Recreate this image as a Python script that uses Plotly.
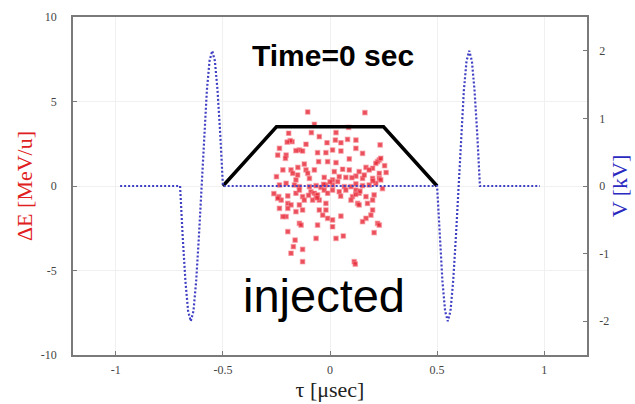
import plotly.graph_objects as go

# Longitudinal phase space of the injected bunch at t = 0
tau_us = [
    -0.104, 0.163, -0.073, -0.193, -0.177, -0.186, -0.087, -0.050, 0.028, 0.025,
    -0.014, 0.051, 0.082, 0.121, 0.234, 0.087, -0.112, -0.143, -0.159, -0.128,
    -0.236, -0.244, -0.205, -0.208, -0.058, -0.019, 0.012, 0.051, 0.121, 0.152,
    0.230, 0.222, 0.214, 0.237, 0.199, 0.168, 0.183, 0.136, 0.121, 0.152,
    0.160, 0.230, 0.230, 0.237, 0.199, -0.220, -0.182, -0.174, -0.151, -0.159,
    -0.112, -0.104, -0.096, -0.073, -0.011, 0.028, -0.053, 0.059, 0.090, 0.020,
    -0.027, 0.012, 0.043, 0.074, 0.102, -0.236, -0.205, -0.166, -0.143, -0.096,
    -0.065, -0.042, -0.019, 0.012, 0.036, 0.067, 0.098, 0.121, 0.152, 0.183,
    0.214, -0.239, -0.228, -0.197, -0.159, -0.143, -0.128, -0.089, -0.073, -0.065,
    -0.058, -0.027, -0.011, 0.012, 0.043, 0.074, 0.105, 0.121, 0.136, 0.168,
    0.206, -0.244, -0.197, -0.182, -0.143, -0.120, -0.081, -0.050, -0.019, 0.098,
    0.129, 0.136, 0.175, 0.199, -0.236, -0.197, -0.159, -0.128, -0.050, -0.034,
    -0.019, -0.011, 0.012, 0.051, 0.191, 0.168, 0.199, -0.205, -0.220, -0.143,
    -0.135, -0.058, 0.012, 0.152, 0.222, 0.230, 0.206, -0.197, -0.065, 0.028,
    0.062, -0.163, -0.171, -0.128, -0.182, -0.128, 0.113, 0.118, -0.100, -0.060,
    0.140, 0.120, 0.000, -0.030, -0.120, -0.150, 0.050, 0.090, -0.200, 0.200,
    0.255, 0.262, -0.262, 0.245, -0.250,
]
de_mev_u = [
    4.38, 4.34, 3.65, 3.12, 2.62, 2.68, 3.16, 2.92, 3.16, 2.72,
    2.56, 2.56, 2.76, 2.72, 2.43, 3.47, 2.47, 2.13, 2.09, 2.07,
    2.23, 1.83, 1.83, 1.64, 1.97, 1.97, 2.13, 2.07, 2.23, 1.93,
    1.54, 1.44, 1.34, 1.64, 1.05, 1.10, 0.95, 0.85, 0.59, 0.45,
    0.65, 0.75, 0.45, 0.36, 0.45, 0.95, 0.95, 0.75, 0.65, 0.36,
    0.95, 0.75, 0.45, 0.95, 1.44, 1.38, 1.44, 0.99, 0.95, 0.85,
    0.51, 0.36, 0.55, 0.51, 0.49, 0.06, 0.16, 0.06, -0.04, -0.04,
    0.02, -0.08, 0.06, 0.06, 0.26, -0.04, -0.04, 0.12, 0.02, 0.06,
    0.16, -0.63, -0.83, -0.59, -0.43, -0.24, -0.63, -0.34, -0.43, -0.59,
    -0.53, -0.24, -0.43, -0.24, -0.34, -0.24, -0.63, -0.24, -0.43, -0.63,
    -0.53, -0.73, -1.03, -1.12, -1.12, -0.83, -0.83, -0.83, -1.03, -0.83,
    -1.03, -1.12, -1.03, -0.83, -1.32, -1.32, -1.52, -1.42, -1.42, -1.72,
    -1.42, -1.91, -2.01, -1.78, -1.72, -1.91, -1.42, -1.81, -1.81, -2.21,
    -2.31, -2.31, -2.41, -2.11, -2.21, -2.31, -2.76, -2.70, -3.10, -3.10,
    -2.96, -3.20, -3.59, -3.75, -3.98, -4.48, -4.48, -4.62, -0.55, -0.70,
    -0.30, -0.50, 0.25, 0.10, 1.30, 1.10, -0.60, 1.60, 2.60, 0.30,
    1.20, 0.80, -0.45, -0.15, 0.55,
]

# Kicker / barrier voltage waveform
tau_v = [
    -0.98, -0.70, -0.6875, -0.675, -0.6625, -0.65, -0.6375, -0.625, -0.6125,
    -0.60, -0.5875, -0.575, -0.5625, -0.55, -0.5375, -0.525, -0.5125, -0.50,
    0.50, 0.5125, 0.525, 0.5375, 0.55, 0.5625, 0.575, 0.5875,
    0.60, 0.6125, 0.625, 0.6375, 0.65, 0.6625, 0.675, 0.6875, 0.70, 0.98,
]
volt_kv = [
    0.0, 0.0, -0.77, -1.41, -1.85, -2.0, -1.85, -1.41, -0.77,
    0.0, 0.77, 1.41, 1.85, 2.0, 1.85, 1.41, 0.77, 0.0,
    0.0, -0.77, -1.41, -1.85, -2.0, -1.85, -1.41, -0.77,
    0.0, 0.77, 1.41, 1.85, 2.0, 1.85, 1.41, 0.77, 0.0, 0.0,
]

# Bucket outline
bucket_tau = [-0.5, -0.25, 0.25, 0.5]
bucket_de = [0.0, 3.5, 3.5, 0.0]

x_ticks = [-1, -0.5, 0, 0.5, 1]
x_labels = ["-1", "-0.5", "0", "0.5", "1"]
y_ticks = [-10, -5, 0, 5, 10]
y_labels = ["-10", "-5", "0", "5", "10"]
v_ticks = [-2, -1, 0, 1, 2]
v_labels = ["-2", "-1", "0", "1", "2"]

SERIF = "Liberation Serif, Times New Roman, serif"
SANS = "Liberation Sans, Arial, sans-serif"
AXIS_GRAY = "#7a7a7a"
TICK_FONT = dict(family=SERIF, size=12, color="#444")

fig = go.Figure()

fig.add_trace(go.Scatter(
    x=tau_v, y=volt_kv, yaxis="y2", mode="lines",
    line=dict(color="#4040c4", width=2.2, dash="2px,2px"),
    showlegend=False, hoverinfo="skip",
))

fig.add_trace(go.Scatter(
    x=tau_us, y=de_mev_u, mode="markers",
    marker=dict(symbol="square", size=4.5, color="rgba(230,35,50,0.8)",
                line=dict(width=1.2, color="rgba(245,140,150,0.55)")),
    showlegend=False,
))

fig.add_trace(go.Scatter(
    x=bucket_tau, y=bucket_de, mode="lines",
    line=dict(color="black", width=3.5),
    showlegend=False,
))

fig.add_annotation(text="<b>Time=0 sec</b>", x=0.015, y=7.7, xref="x", yref="y",
                   showarrow=False, font=dict(family=SANS, size=30, color="black"))
fig.add_annotation(text="injected", x=-0.027, y=-6.5, xref="x", yref="y",
                   showarrow=False, font=dict(family=SANS, size=47, color="black"))

fig.update_layout(
    width=635, height=404,
    margin=dict(l=73, r=48, t=17, b=49),
    paper_bgcolor="white", plot_bgcolor="white",
    xaxis=dict(
        range=[-1.2, 1.2], tickvals=x_ticks, ticktext=x_labels, automargin=False,
        ticks="inside", ticklen=4, tickcolor=AXIS_GRAY, ticklabelstandoff=3,
        showline=True, linecolor=AXIS_GRAY, linewidth=1.5, mirror=True,
        showgrid=True, gridcolor="#f0f0f0", zeroline=False,
        tickfont=TICK_FONT,
        title=dict(text="τ [μsec]", font=dict(family=SERIF, size=22, color="#222"),
                   standoff=4),
    ),
    yaxis=dict(
        range=[-10, 10], tickvals=y_ticks, ticktext=y_labels, automargin=False,
        ticks="inside", ticklen=4, tickcolor=AXIS_GRAY, ticklabelstandoff=12,
        showline=True, linecolor=AXIS_GRAY, linewidth=1.5, mirror=True,
        showgrid=True, gridcolor="#f0f0f0", zeroline=False,
        tickfont=TICK_FONT,
        title=dict(text="ΔE [MeV/u]", font=dict(family=SERIF, size=22, color="#e02020"),
                   standoff=2),
    ),
    yaxis2=dict(
        range=[-2.5, 2.5], tickvals=v_ticks, ticktext=v_labels, automargin=False,
        overlaying="y", side="right",
        ticks="inside", ticklen=4, tickcolor=AXIS_GRAY, ticklabelstandoff=8,
        showline=True, linecolor=AXIS_GRAY, linewidth=1.5,
        showgrid=False, zeroline=False,
        tickfont=TICK_FONT,
        title=dict(text="V [kV]", font=dict(family=SERIF, size=22, color="#2a2ac0"),
                   standoff=3),
    ),
)

fig.write_html("out.html")
